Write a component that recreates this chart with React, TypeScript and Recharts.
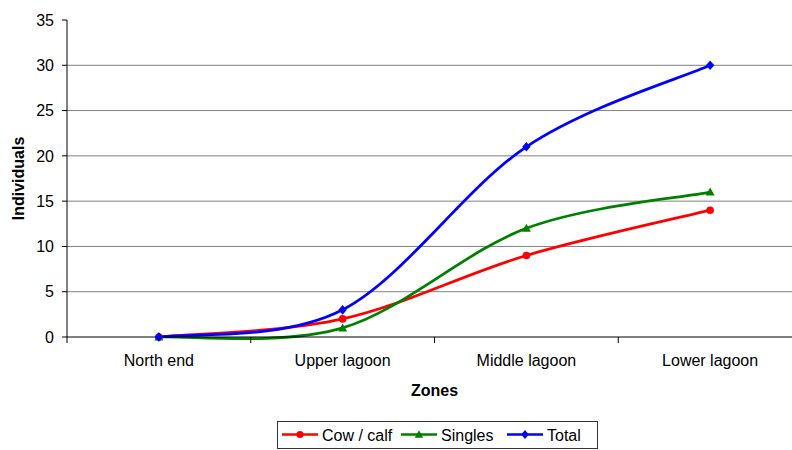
import React from 'react';
import { LineChart, Line, XAxis, YAxis, CartesianGrid, Legend } from 'recharts';

// Sightings per lagoon zone
const zones = ['North end', 'Upper lagoon', 'Middle lagoon', 'Lower lagoon'];
const cowCalf = [0, 2, 9, 14];
const singles = [0, 1, 12, 16];
const total = [0, 3, 21, 30];
const yTicks = [0, 5, 10, 15, 20, 25, 30, 35];
const gridValues = [5, 10, 15, 20, 25, 30];

const data = zones.map((zone, i) => ({
  zone,
  cowCalf: cowCalf[i],
  singles: singles[i],
  total: total[i],
}));

const FONT = '"Liberation Sans", Arial, Helvetica, sans-serif';
const CHART_W = 810;
const CHART_H = 450;
const MARGIN = { top: 20, right: 8, left: 0, bottom: 53 };
const Y_AXIS_W = 67;
const X_AXIS_H = 60;
const Y_MAX = 35;
const plotWidth = CHART_W - MARGIN.left - MARGIN.right - Y_AXIS_W;
const halfBand = plotWidth / zones.length / 2;

const RED = '#FF0000';
const GREEN = '#008000';
const BLUE = '#0000FF';

// Catmull-Rom style smoothing, passed to Recharts as a curve factory
const smoothCurve: any = (context: any) => {
  let pts: number[][] = [];
  return {
    areaStart() {},
    areaEnd() {},
    lineStart() {
      pts = [];
    },
    point(x: number, y: number) {
      pts.push([+x, +y]);
    },
    lineEnd() {
      const n = pts.length;
      if (!n) return;
      context.moveTo(pts[0][0], pts[0][1]);
      for (let i = 0; i < n - 1; i++) {
        const p0 = pts[Math.max(i - 1, 0)];
        const p1 = pts[i];
        const p2 = pts[i + 1];
        const p3 = pts[Math.min(i + 2, n - 1)];
        context.bezierCurveTo(
          p1[0] + (p2[0] - p0[0]) / 6,
          p1[1] + (p2[1] - p0[1]) / 6,
          p2[0] - (p3[0] - p1[0]) / 6,
          p2[1] - (p3[1] - p1[1]) / 6,
          p2[0],
          p2[1]
        );
      }
    },
  };
};

const CircleDot = (props: any) => {
  const { cx, cy } = props;
  if (cx == null || cy == null) return null;
  return <circle cx={cx} cy={cy} r={3.8} fill={RED} stroke="none" />;
};

const TriangleDot = (props: any) => {
  const { cx, cy } = props;
  if (cx == null || cy == null) return null;
  return (
    <polygon
      points={`${cx},${cy - 4.5} ${cx + 4.5},${cy + 3.5} ${cx - 4.5},${cy + 3.5}`}
      fill={GREEN}
    />
  );
};

const DiamondDot = (props: any) => {
  const { cx, cy } = props;
  if (cx == null || cy == null) return null;
  return (
    <polygon
      points={`${cx},${cy - 4.8} ${cx + 4.2},${cy} ${cx},${cy + 4.8} ${cx - 4.2},${cy}`}
      fill={BLUE}
    />
  );
};

// Category label centred in its band, tick mark on the band's left edge
const ZoneTick = (props: any) => {
  const { x, y, payload } = props;
  const edge = x - halfBand;
  return (
    <g>
      <line x1={edge} y1={y} x2={edge} y2={y + 6} stroke="#000" strokeWidth={1} />
      <text
        x={x}
        y={y + 29}
        textAnchor="middle"
        fontSize={16}
        fontFamily={FONT}
        fill="#000"
      >
        {payload.value}
      </text>
    </g>
  );
};

const legendItems = [
  { label: 'Cow / calf', color: RED, x: 5, shape: 'circle' },
  { label: 'Singles', color: GREEN, x: 124, shape: 'triangle' },
  { label: 'Total', color: BLUE, x: 230, shape: 'diamond' },
];

const LegendBox = () => (
  <svg width={321} height={28} style={{ display: 'block' }}>
    <rect x={0.5} y={0.5} width={320} height={27} fill="#fff" stroke="#333" strokeWidth={1} />
    {legendItems.map((item) => {
      const mx = item.x + 18;
      const my = 13.5;
      let marker: React.ReactNode;
      if (item.shape === 'circle') {
        marker = <circle cx={mx} cy={my} r={3.6} fill={item.color} />;
      } else if (item.shape === 'triangle') {
        marker = (
          <polygon
            points={`${mx},${my - 4.2} ${mx + 4.2},${my + 3.2} ${mx - 4.2},${my + 3.2}`}
            fill={item.color}
          />
        );
      } else {
        marker = (
          <polygon
            points={`${mx},${my - 4.5} ${mx + 3.8},${my} ${mx},${my + 4.5} ${mx - 3.8},${my}`}
            fill={item.color}
          />
        );
      }
      return (
        <g key={item.label}>
          <line x1={item.x} y1={my} x2={item.x + 36} y2={my} stroke={item.color} strokeWidth={2.5} />
          {marker}
          <text x={item.x + 40} y={19.7} fontSize={16} fontFamily={FONT} fill="#000">
            {item.label}
          </text>
        </g>
      );
    })}
  </svg>
);

export default function App() {
  return (
    <div
      style={{
        position: 'absolute',
        left: 0,
        top: 0,
        width: 792,
        height: 450,
        overflow: 'hidden',
        background: '#fff',
        fontFamily: FONT,
      }}
    >
      <LineChart width={CHART_W} height={CHART_H} data={data} margin={MARGIN}>
        <CartesianGrid
          vertical={false}
          stroke="#808080"
          strokeWidth={1}
          horizontalCoordinatesGenerator={({ offset }: any) =>
            gridValues.map((v) => offset.top + offset.height * (1 - v / Y_MAX))
          }
        />
        <XAxis
          dataKey="zone"
          height={X_AXIS_H}
          padding={{ left: halfBand, right: halfBand }}
          interval={0}
          tickLine={false}
          tickSize={0}
          tickMargin={0}
          axisLine={{ stroke: '#000', strokeWidth: 1 }}
          tick={<ZoneTick />}
          label={{
            value: 'Zones',
            position: 'insideBottom',
            offset: 1,
            style: { fontWeight: 'bold', fontSize: 16, fill: '#000', fontFamily: FONT },
          }}
        />
        <YAxis
          width={Y_AXIS_W}
          domain={[0, Y_MAX]}
          ticks={yTicks}
          interval={0}
          tickSize={5}
          tickMargin={8}
          axisLine={{ stroke: '#000', strokeWidth: 1 }}
          tickLine={{ stroke: '#000', strokeWidth: 1 }}
          tick={{ fill: '#000', fontSize: 16, fontFamily: FONT }}
          label={{
            value: 'Individuals',
            angle: -90,
            position: 'insideLeft',
            offset: 18,
            style: {
              textAnchor: 'middle',
              fontWeight: 'bold',
              fontSize: 16,
              fill: '#000',
              fontFamily: FONT,
            },
          }}
        />
        <Legend
          verticalAlign="middle"
          layout="horizontal"
          content={() => <LegendBox />}
          wrapperStyle={{ position: 'absolute', left: 277, top: 421, width: 321, height: 28 }}
        />
        <Line
          dataKey="cowCalf"
          name="Cow / calf"
          type={smoothCurve}
          stroke={RED}
          strokeWidth={2.75}
          dot={<CircleDot />}
          activeDot={false}
          isAnimationActive={false}
        />
        <Line
          dataKey="singles"
          name="Singles"
          type={smoothCurve}
          stroke={GREEN}
          strokeWidth={2.75}
          dot={<TriangleDot />}
          activeDot={false}
          isAnimationActive={false}
        />
        <Line
          dataKey="total"
          name="Total"
          type={smoothCurve}
          stroke={BLUE}
          strokeWidth={2.75}
          dot={<DiamondDot />}
          activeDot={false}
          isAnimationActive={false}
        />
      </LineChart>
    </div>
  );
}
